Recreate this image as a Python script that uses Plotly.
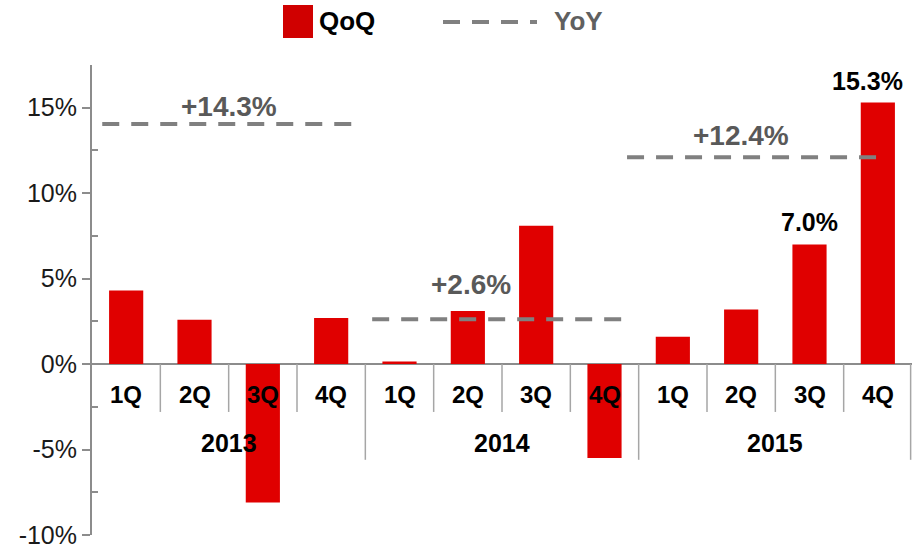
import plotly.graph_objects as go

# ---- data ----
quarters = ["1Q", "2Q", "3Q", "4Q", "1Q", "2Q", "3Q", "4Q", "1Q", "2Q", "3Q", "4Q"]
years = ["2013", "2014", "2015"]
qoq = [4.3, 2.6, -8.1, 2.7, 0.15, 3.1, 8.1, -5.5, 1.6, 3.2, 7.0, 15.3]
yoy_labels = ["+14.3%", "+2.6%", "+12.4%"]
yoy_line = [14.05, 2.63, 12.1]
labeled_bars = [10, 11]
y_ticks = [-10, -5, 0, 5, 10, 15]
y_tick_text = ["-10%", "-5%", "0%", "5%", "10%", "15%"]

# ---- geometry ----
W, H = 914, 548
L, R, T, B = 92, 2, 65, 13
pw, ph = W - L - R, H - T - B

def px(x):
    return (x - L) / pw

def py(y):
    return (H - B - y) / ph

RED = "#E00000"
GRAY = "#808080"
AXG = "#8c8c8c"
FONT = "Liberation Sans, Arial, sans-serif"

x = list(range(len(qoq)))
fig = go.Figure()
fig.add_trace(go.Bar(x=x, y=qoq, width=0.5, marker=dict(color=RED, line=dict(width=0)),
                     showlegend=False, hoverinfo="skip"))

# YoY dashed lines
line_spans = [(-0.35, 3.35), (3.6, 7.27), (7.33, 11.05)]
for (x0, x1), v in zip(line_spans, yoy_line):
    fig.add_trace(go.Scatter(x=[x0, x1], y=[v, v], mode="lines",
                             line=dict(color=GRAY, width=4, dash="17px,12px"),
                             showlegend=False, hoverinfo="skip"))

shapes = []
ann = []

# separators
for i in range(len(qoq)):
    xs = i + 0.5 if i < len(qoq) - 1 else i + 0.48
    if (i + 1) % 4 == 0:
        y1 = -5.6
    else:
        y1 = -2.8
    shapes.append(dict(type="line", xref="x", yref="y", x0=xs, x1=xs, y0=0, y1=y1,
                       line=dict(color="#a6a6a6", width=1.5)))

# quarter labels
for i, q in enumerate(quarters):
    ann.append(dict(x=i, y=-1.8, xref="x", yref="y", text=q, showarrow=False,
                    font=dict(family=FONT, size=24, color="#000000", weight="bold")))
for j, yr in enumerate(years):
    ann.append(dict(x=j * 4 + 1.5, y=-4.6, xref="x", yref="y", text=yr, showarrow=False,
                    font=dict(family=FONT, size=25, color="#000000", weight="bold")))

# yoy labels
yoy_lab_x = [1.5, 5.05, 9.0]
yoy_lab_shift = [17, 35, 22]
for xl, t, v, s in zip(yoy_lab_x, yoy_labels, yoy_line, yoy_lab_shift):
    ann.append(dict(x=xl, y=v, xref="x", yref="y", text=t, showarrow=False, yshift=s,
                    font=dict(family=FONT, size=28, color="#595959", weight="bold")))

# value labels
label_xshift = [0, -10]
for i, xs in zip(labeled_bars, label_xshift):
    ann.append(dict(x=i, y=qoq[i], xref="x", yref="y", text=f"{qoq[i]:.1f}%", showarrow=False,
                    yanchor="bottom", yshift=6, xshift=xs,
                    font=dict(family=FONT, size=25, color="#000000", weight="bold")))

# legend
shapes.append(dict(type="rect", xref="paper", yref="paper", x0=px(283), x1=px(313),
                   y0=py(38), y1=py(5), fillcolor="#D00000", line=dict(width=0)))
ann.append(dict(x=px(317), y=py(21), xref="paper", yref="paper", text="QoQ", showarrow=False,
                xanchor="left", yanchor="middle",
                font=dict(family=FONT, size=26, color="#000000", weight="bold")))
shapes.append(dict(type="line", xref="paper", yref="paper", x0=px(443), x1=px(537),
                   y0=py(22), y1=py(22), line=dict(color=GRAY, width=4, dash="17px,12px")))
ann.append(dict(x=px(552), y=py(21), xref="paper", yref="paper", text="YoY", showarrow=False,
                xanchor="left", yanchor="middle",
                font=dict(family=FONT, size=26, color="#606060", weight="bold")))

fig.update_layout(
    width=W, height=H,
    margin=dict(l=L, r=R, t=T, b=B, autoexpand=False),
    paper_bgcolor="white", plot_bgcolor="white",
    shapes=shapes, annotations=ann,
    bargap=0.5,
    xaxis=dict(range=[-0.5, 11.5], showticklabels=False, showgrid=False, zeroline=False,
               showline=False, ticks="", automargin=False),
    yaxis=dict(range=[-10, 17.5], tickvals=y_ticks, ticktext=y_tick_text, showgrid=False,
               automargin=False, ticklabeloverflow="allow",
               zeroline=True, zerolinecolor=AXG, zerolinewidth=2,
               showline=True, linecolor=AXG, linewidth=2,
               ticks="outside", ticklen=8, tickcolor=AXG, tickwidth=2,
               tickfont=dict(family=FONT, size=25, color="#1a1a1a"),
               minor=dict(tickvals=[-7.5, -2.5, 2.5, 7.5, 12.5], ticks="inside", ticklen=6,
                          tickcolor=AXG, tickwidth=2, showgrid=False)),
)

fig.write_html("out.html", config={"displayModeBar": False},
               post_script="document.body.style.margin='0';document.body.style.overflow='hidden';")
